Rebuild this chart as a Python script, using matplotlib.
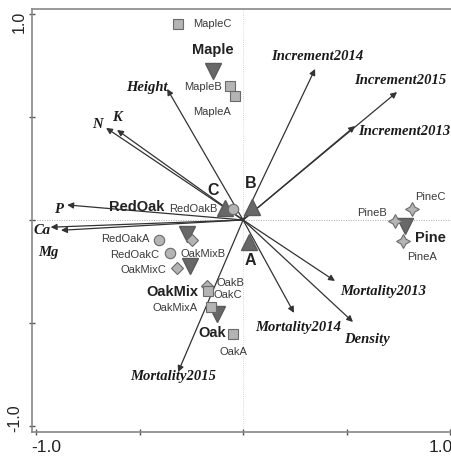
import numpy as np
import matplotlib
matplotlib.use("Agg")
import matplotlib.pyplot as plt

# site scores
sites = ["MapleA", "MapleB", "MapleC", "RedOakA", "RedOakB", "RedOakC",
         "OakMixA", "OakMixB", "OakMixC", "OakA", "OakB", "OakC",
         "PineA", "PineB", "PineC"]
site_x = [-0.039, -0.063, -0.314, -0.406, -0.048, -0.353,
          -0.174, -0.246, -0.319, -0.048, -0.169, -0.155,
          0.773, 0.734, 0.816]
site_y = [0.602, 0.650, 0.951, -0.097, 0.053, -0.160,
          -0.320, -0.097, -0.233, -0.553, -0.345, -0.422,
          -0.102, -0.005, 0.053]

# species centroids
species = ["Maple", "RedOak", "OakMix", "Oak", "Pine"]
species_x = [-0.145, -0.271, -0.256, -0.126, 0.783]
species_y = [0.723, -0.068, -0.223, -0.456, -0.029]

# block centroids
blocks = ["A", "B", "C"]
block_x = [0.029, 0.043, -0.087]
block_y = [-0.107, 0.063, 0.058]

# environmental vectors
env = ["Increment2014", "Increment2015", "Increment2013", "Height", "N", "K",
       "P", "Ca", "Mg", "Mortality2015", "Mortality2013", "Mortality2014",
       "Density"]
env_x = [0.348, 0.744, 0.541, -0.367, -0.662, -0.609,
         -0.850, -0.880, -0.930, -0.314, 0.444, 0.246, 0.531]
env_y = [0.733, 0.621, 0.456, 0.636, 0.447, 0.437,
         0.073, -0.050, -0.035, -0.738, -0.296, -0.451, -0.495]

# where the labels sit
site_lab = {"MapleA": (-0.150, 0.529), "MapleB": (-0.193, 0.650), "MapleC": (-0.150, 0.956),
            "RedOakA": (-0.570, -0.087), "RedOakB": (-0.242, 0.058), "RedOakC": (-0.522, -0.165),
            "OakMixA": (-0.329, -0.422), "OakMixB": (-0.193, -0.160), "OakMixC": (-0.483, -0.238),
            "OakA": (-0.048, -0.636), "OakB": (-0.063, -0.301), "OakC": (-0.072, -0.359),
            "PineA": (0.865, -0.175), "PineB": (0.623, 0.039), "PineC": (0.903, 0.117)}
species_lab = {"Maple": (-0.145, 0.830), "RedOak": (-0.512, 0.068), "OakMix": (-0.343, -0.345),
               "Oak": (-0.150, -0.544), "Pine": (0.903, -0.083)}
block_lab = {"A": (0.034, -0.194), "B": (0.039, 0.180), "C": (-0.145, 0.150)}
env_lab = {"Increment2014": (0.357, 0.796), "Increment2015": (0.758, 0.684),
           "Increment2013": (0.778, 0.432), "Height": (-0.464, 0.650), "N": (-0.705, 0.466),
           "K": (-0.609, 0.500), "P": (-0.894, 0.058), "Ca": (-0.971, -0.044),
           "Mg": (-0.942, -0.155), "Mortality2015": (-0.338, -0.757),
           "Mortality2013": (0.676, -0.340), "Mortality2014": (0.266, -0.519),
           "Density": (0.599, -0.573)}

site_style = {"Maple": ("s", 7), "RedOak": ("o", 7.5), "OakMix": ("D", 6),
              "Oak": ("s", 7), "Pine": ((4, 1, 0), 10)}

sans = "Liberation Sans"
serif = "Liberation Serif"

fig = plt.figure(figsize=(4.52, 4.60), dpi=100)
ax = fig.add_axes([0.0708, 0.0587, 0.934, 0.9196])
ax.set_xlim(-1.02, 1.02)
ax.set_ylim(-1.029, 1.024)

ax.axhline(0, color="#aaaaaa", lw=0.7, ls=(0, (1, 1.5)), zorder=0)
ax.axvline(0, color="#cccccc", lw=0.6, ls=(0, (1, 1.5)), zorder=0)

# arrows
for name, x, y in zip(env, env_x, env_y):
    ax.annotate("", xy=(x, y), xytext=(0, 0),
                arrowprops=dict(arrowstyle="-|>", color="#333333", lw=0.9,
                                mutation_scale=9, shrinkA=0, shrinkB=0), zorder=2)
    lx, ly = env_lab[name]
    ax.text(lx, ly, name, fontsize=10.5, family=serif, style="italic", weight="bold",
            ha="center", va="center", color="#1a1a1a", zorder=5)

# sites
for name, x, y in zip(sites, site_x, site_y):
    grp = name[:-1]
    m, ms = site_style[grp]
    ax.plot(x, y, marker=m, ms=ms, mfc="#b4b4b4", mec="#6a6a6a", mew=0.8,
            ls="none", zorder=4)
    lx, ly = site_lab[name]
    ax.text(lx, ly, name, fontsize=8, family=sans, color="#3a3a3a",
            ha="center", va="center", zorder=5)

# species centroids
for name, x, y in zip(species, species_x, species_y):
    ax.plot(x, y, marker="v", ms=12, mfc="#686868", mec="#5a5a5a", ls="none", zorder=3)
    lx, ly = species_lab[name]
    ax.text(lx, ly, name, fontsize=10.5, family=sans, weight="bold", color="#222222",
            ha="center", va="center", zorder=5)

# block centroids
for name, x, y in zip(blocks, block_x, block_y):
    ax.plot(x, y, marker="^", ms=11, mfc="#686868", mec="#5a5a5a", ls="none", zorder=3)
    lx, ly = block_lab[name]
    ax.text(lx, ly, name, fontsize=11.5, family=sans, weight="bold", color="#222222",
            ha="center", va="center", zorder=5)

for s in ax.spines.values():
    s.set_color("#888888")
    s.set_linewidth(1.2)
ax.spines["right"].set_visible(False)

ax.set_xticks([-1, -0.5, 0, 0.5, 1])
ax.set_yticks([-1, -0.5, 0, 0.5, 1])
ax.set_xticklabels([])
ax.set_yticklabels([])
ax.tick_params(direction="inout", length=4, width=1, color="#555555")

# end labels of the axes
xt = ax.get_xaxis_transform()
yt = ax.get_yaxis_transform()
ax.text(-0.95, -0.035, "-1.0", transform=xt, fontsize=12.5, family=sans,
        color="#222222", ha="center", va="center", clip_on=False)
ax.text(0.953, -0.035, "1.0", transform=xt, fontsize=12.5, family=sans,
        color="#222222", ha="center", va="center", clip_on=False)
ax.text(-0.03, 0.966, "1.0", transform=yt, fontsize=11.5, family=sans,
        color="#222222", ha="center", va="center", rotation=90, clip_on=False)
ax.text(-0.04, -0.956, "-1.0", transform=yt, fontsize=11.5, family=sans,
        color="#222222", ha="center", va="center", rotation=90, clip_on=False)

fig.savefig("out.png", dpi=100)
